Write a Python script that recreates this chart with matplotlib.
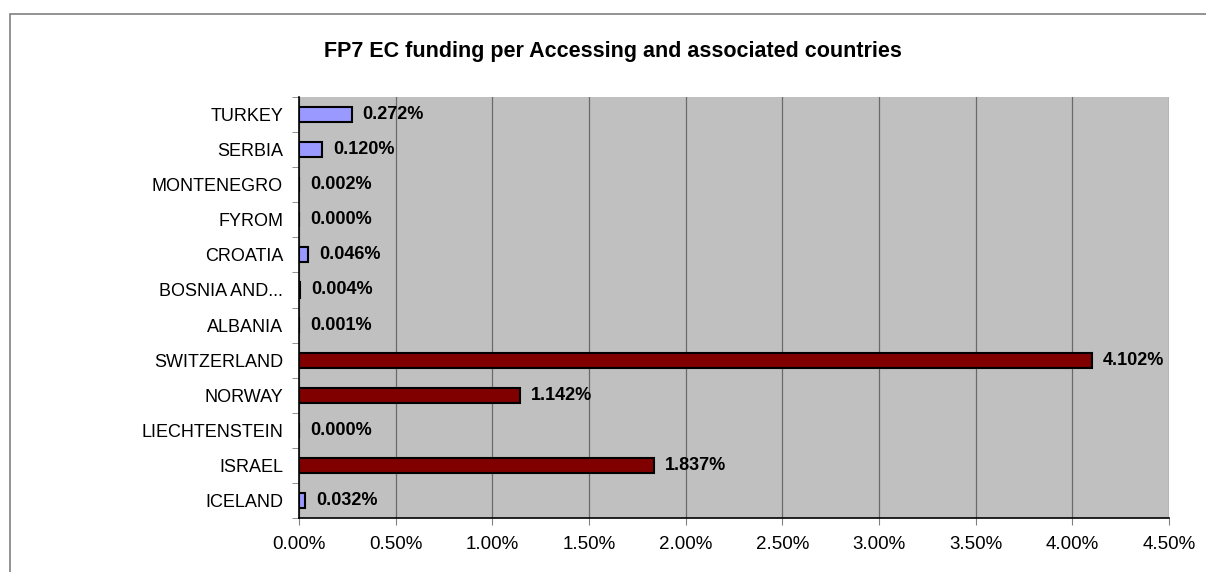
import numpy as np
import matplotlib
matplotlib.use('Agg')
from matplotlib import pyplot as plt
from matplotlib.patches import Rectangle
from matplotlib.ticker import FuncFormatter, MultipleLocator

plt.rcParams['font.family'] = ['Liberation Sans', 'DejaVu Sans']

# data, bottom to top
countries = ['ICELAND', 'ISRAEL', 'LIECHTENSTEIN', 'NORWAY', 'SWITZERLAND', 'ALBANIA',
             'BOSNIA AND...', 'CROATIA', 'FYROM', 'MONTENEGRO', 'SERBIA', 'TURKEY']
funding = [0.032, 1.837, 0.000, 1.142, 4.102, 0.001,
           0.004, 0.046, 0.000, 0.002, 0.120, 0.272]
group = ['acc', 'assoc', 'acc', 'assoc', 'assoc', 'acc',
         'acc', 'acc', 'acc', 'acc', 'acc', 'acc']
title = 'FP7 EC funding per Accessing and associated countries'

colors = {'acc': '#9999FF', 'assoc': '#800000'}

fig = plt.figure(figsize=(12.06, 5.72), dpi=100)
# outer chart border (only top and left visible in the original)
fig.patches.append(Rectangle((10/1206, -0.1), 1.2, (572 - 14)/572 + 0.1,
                             transform=fig.transFigure, fill=False,
                             edgecolor='#808080', linewidth=1.2))

ax = fig.add_axes([299/1206, 1 - 518/572, (1169 - 299)/1206, (518 - 97)/572])
ax.set_facecolor('#C0C0C0')

y = np.arange(len(countries))
bar_colors = [colors[g] for g in group]
ax.barh(y, funding, height=0.43, color=bar_colors, edgecolor='black', linewidth=1.5, zorder=3)

for yi, v in zip(y, funding):
    ax.annotate('%.3f%%' % v, (v, yi), xytext=(8, 0), textcoords='offset points',
                va='center', ha='left', fontsize=13, fontweight='bold', zorder=4)

ax.set_xlim(0, 4.5)
ax.set_ylim(-0.5, len(countries) - 0.5)
ax.xaxis.set_major_locator(MultipleLocator(0.5))
ax.xaxis.set_major_formatter(FuncFormatter(lambda v, p: '%.2f%%' % v))
ax.grid(axis='x', color='#6a6a6a', linewidth=0.9, zorder=1)
ax.set_axisbelow(True)

ax.set_yticks(y)
ax.set_yticklabels(countries)
ax.set_yticks(np.arange(-0.5, len(countries), 1), minor=True)
ax.tick_params(axis='y', which='major', length=0, pad=11.5, labelsize=13)
ax.tick_params(axis='y', which='minor', length=5, color='#808080')
ax.tick_params(axis='x', length=5, color='#808080', pad=8, labelsize=13.5)

for s in ['top', 'right']:
    ax.spines[s].set_visible(False)
ax.spines['left'].set_linewidth(1.2)
ax.spines['bottom'].set_linewidth(1.2)

fig.text(613/1206, 1 - 51/572, title, ha='center', va='center', fontsize=15.5, fontweight='bold')

fig.savefig('out.png', dpi=100)
